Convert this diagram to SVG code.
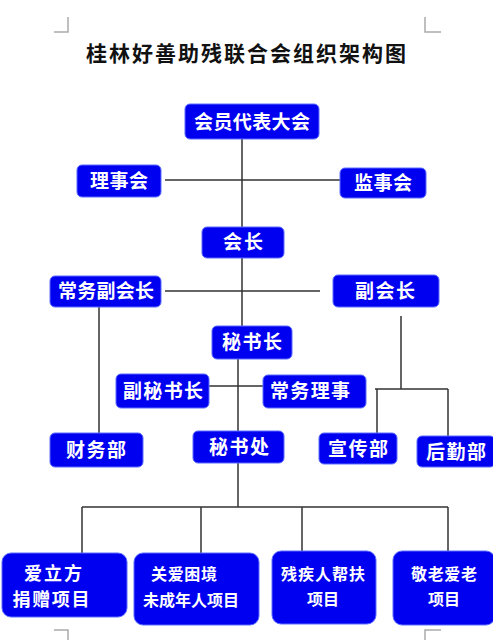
<svg xmlns="http://www.w3.org/2000/svg" width="493" height="640" viewBox="0 0 493 640">
<style>
.box{fill:#0000f0;stroke:#5a6cff;stroke-width:1}
.t{fill:#fff;font-family:"Noto Sans CJK SC","Noto Sans CJK JP",sans-serif;font-weight:bold;text-anchor:middle}
.big{font-size:19px}
.mid{font-size:18px}
.sm{font-size:16px}
.ln{stroke:#333;stroke-width:1.5;fill:none}
.crop{stroke:#aaa;stroke-width:1.5;fill:none}
</style>
<rect width="493" height="640" fill="#fff"/>
<g id="cropmarks">
<path class="crop" d="M68 17V32H54M425 17V32H441M54 630H68V640M441 630H425V640"/>
</g>
<text x="246" y="61" font-family="'Noto Sans CJK SC',sans-serif" font-size="21" font-weight="bold" text-anchor="middle" fill="#111" textLength="320" lengthAdjust="spacing">桂林好善助残联合会组织架构图</text>
<g id="connectors">
<path class="ln" d="M242 139V227M165 180H340M242 258V326M165 291H320M99 307V433M401 316V389M375 389H448M377 389V433M448 389V436M238 359V431M209 386H263M238 463V507M82 507H448M82 507V553M201 507V553M302 507V551M448 507V551"/>
</g>
<g id="n1"><rect class="box" x="185" y="104" width="134" height="35" rx="5"/><text class="t big" x="252" y="129" textLength="116" lengthAdjust="spacing">会员代表大会</text></g>
<g id="n2"><rect class="box" x="77" y="165" width="84" height="32" rx="5"/><text class="t big" x="119" y="188" textLength="58" lengthAdjust="spacing">理事会</text></g>
<g id="n3"><rect class="box" x="340" y="168" width="86" height="30" rx="5"/><text class="t big" x="383" y="190" textLength="58" lengthAdjust="spacing">监事会</text></g>
<g id="n4"><rect class="box" x="202" y="227" width="82" height="31" rx="5"/><text class="t big" x="243" y="249" textLength="40" lengthAdjust="spacing">会长</text></g>
<g id="n5"><rect class="box" x="50" y="276" width="111" height="31" rx="5"/><text class="t big" x="106" y="298" textLength="96" lengthAdjust="spacing">常务副会长</text></g>
<g id="n6"><rect class="box" x="333" y="275" width="106" height="32" rx="5"/><text class="t big" x="385" y="298" textLength="60" lengthAdjust="spacing">副会长</text></g>
<g id="n7"><rect class="box" x="212" y="326" width="80" height="33" rx="5"/><text class="t big" x="252" y="349" textLength="60" lengthAdjust="spacing">秘书长</text></g>
<g id="n8"><rect class="box" x="116" y="374" width="93" height="34" rx="5"/><text class="t big" x="163" y="398" textLength="80" lengthAdjust="spacing">副秘书长</text></g>
<g id="n9"><rect class="box" x="263" y="375" width="103" height="33" rx="5"/><text class="t big" x="310" y="398" textLength="80" lengthAdjust="spacing">常务理事</text></g>
<g id="n10"><rect class="box" x="50" y="433" width="93" height="34" rx="5"/><text class="t big" x="96" y="457" textLength="60" lengthAdjust="spacing">财务部</text></g>
<g id="n11"><rect class="box" x="193" y="431" width="91" height="32" rx="5"/><text class="t big" x="239" y="454" textLength="60" lengthAdjust="spacing">秘书处</text></g>
<g id="n12"><rect class="box" x="319" y="433" width="78" height="31" rx="5"/><text class="t big" x="358" y="456" textLength="60" lengthAdjust="spacing">宣传部</text></g>
<g id="n13"><rect class="box" x="417" y="436" width="78" height="31" rx="5"/><text class="t big" x="456" y="459" textLength="60" lengthAdjust="spacing">后勤部</text></g>
<g id="n14"><rect class="box" x="2" y="553" width="125" height="64" rx="9"/><text class="t mid" x="53" y="580" textLength="58" lengthAdjust="spacing">爱立方</text><text class="t mid" x="51" y="606" textLength="77" lengthAdjust="spacing">捐赠项目</text></g>
<g id="n15"><rect class="box" x="134" y="553" width="125" height="72" rx="9"/><text class="t sm" x="184" y="580" textLength="66" lengthAdjust="spacing">关爱困境</text><text class="t sm" x="191" y="606" textLength="96" lengthAdjust="spacing">未成年人项目</text></g>
<g id="n16"><rect class="box" x="272" y="551" width="104" height="73" rx="9"/><text class="t sm" x="323" y="580" textLength="84" lengthAdjust="spacing">残疾人帮扶</text><text class="t sm" x="323" y="605" textLength="32" lengthAdjust="spacing">项目</text></g>
<g id="n17"><rect class="box" x="393" y="551" width="102" height="74" rx="9"/><text class="t sm" x="444" y="580" textLength="66" lengthAdjust="spacing">敬老爱老</text><text class="t sm" x="444" y="605" textLength="32" lengthAdjust="spacing">项目</text></g>
</svg>
